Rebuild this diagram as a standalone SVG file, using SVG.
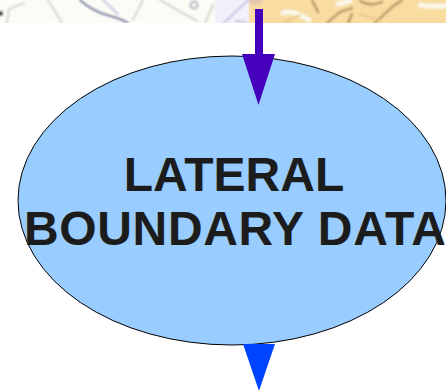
<svg xmlns="http://www.w3.org/2000/svg" width="446" height="390" viewBox="0 0 446 390">
<defs>
<clipPath id="strip"><rect x="0" y="0" width="446" height="23"/></clipPath>
<filter id="soft" x="-5%" y="-50%" width="110%" height="200%"><feGaussianBlur stdDeviation="1"/></filter>
</defs>
<style>
.r{fill:none;stroke-linecap:round}
.g{stroke:#d3d8cb;stroke-width:2.2}
.b{stroke:#5d6a90;stroke-width:2}
.l{stroke:#c4c4e2;stroke-width:2.2}
.o{stroke:#b08f63;stroke-width:2.2}
.w{stroke:#fbf8ec;stroke-width:5}
.t{font-family:"Liberation Sans",Arial,sans-serif;font-weight:bold;font-size:48px;fill:#1c1c1c}
</style>
<g id="map" clip-path="url(#strip)">
<g filter="url(#soft)">
<rect x="-5" y="-5" width="250" height="33" fill="#fcfcf7"/>
<rect x="215" y="-5" width="35" height="33" fill="#f2f0fa"/>
<rect x="249" y="-5" width="200" height="33" fill="#f8dca0"/>
<rect x="-2" y="11" width="5" height="5" fill="#444"/>
<path class="r g" d="M7 23L9 9L24 3M48 0L62 23M143 0L133 20M160 0L197 21M205 23L213 5"/>
<path class="r b" d="M80 0Q92 11 107 15T128 23"/>
<path class="r l" d="M103 0L118 14M224 23L248 0M236 21L246 22"/>
<circle cx="194" cy="5" r="3.500" fill="none" stroke="#8a93a8" stroke-width="1.500"/>
<ellipse cx="256" cy="1" rx="7" ry="4" fill="#e5c8b0"/>
<path class="r w" d="M283 13Q292 9 309 20M338 4L350 1M420 5Q430 7 444 6"/>
<path class="r o" d="M327 23L340 12L352 8M375 23L392 7L402 0M312 0L318 12M348 23L352 14M360 1Q370 7 382 2"/>
<path class="r" d="M285 22L300 15M360 14L378 20" stroke="#e9c58c" stroke-width="2"/>
</g>
</g>
<g id="lateral-boundary-data">
<ellipse cx="232" cy="200.500" rx="214" ry="144.500" fill="#99ccff" stroke="#000" stroke-width="1"/>
<text class="t" x="234" y="191" text-anchor="middle">LATERAL</text>
<text class="t" x="24" y="245" textLength="422" lengthAdjust="spacing">BOUNDARY DATA</text>
</g>
<g id="connectors">
<path d="M255 9H263V54H275L258.500 105L242 54H255Z" fill="#4400bb"/>
<path d="M243 344L275 344L259 391Z" fill="#0044ff"/>
</g>
</svg>
